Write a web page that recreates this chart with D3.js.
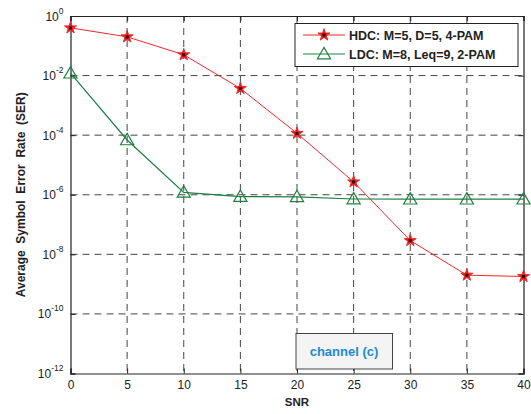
<!DOCTYPE html>
<html>
<head>
<meta charset="utf-8">
<script src="https://cdn.jsdelivr.net/npm/d3@7"></script>
<style>
  body { margin: 0; background: #fff; }
  svg { display: block; font-family: "Liberation Sans", Arial, sans-serif; }
</style>
</head>
<body>
<svg id="chart" width="531" height="414"></svg>
<script>
// SNR points (dB)
const snr = [0, 5, 10, 15, 20, 25, 30, 35, 40];
// Symbol error rate per scheme
const serHDC = [0.4, 0.2, 0.05, 0.0037, 1.15e-4, 2.7e-6, 2.9e-8, 2.0e-9, 1.8e-9];
const serLDC = [0.012, 6.9e-5, 1.2e-6, 8.7e-7, 8.5e-7, 7.2e-7, 7.1e-7, 7.1e-7, 7.1e-7];
const seriesNames = ["HDC: M=5, D=5, 4-PAM", "LDC: M=8, Leq=9, 2-PAM"];
const xTicks = [0, 5, 10, 15, 20, 25, 30, 35, 40];
const yExponents = [0, -2, -4, -6, -8, -10, -12];
const annotation = "channel (c)";

const svg = d3.select("#chart");
const m = { left: 70.5, right: 523.5, top: 16, bottom: 373.5 };

const x = d3.scaleLinear().domain([0, 40]).range([m.left, m.right]);
const y = d3.scaleLog().domain([1e-12, 1]).range([m.bottom, m.top]);

const redC = "#f02828", greenC = "#1e8040";

// dashed grid
const grid = svg.append("g").attr("stroke", "#444").attr("stroke-width", 1)
  .attr("stroke-dasharray", "7,5");
xTicks.slice(1, -1).forEach(t => {
  grid.append("line").attr("x1", x(t)).attr("x2", x(t))
    .attr("y1", m.top).attr("y2", m.bottom);
});
yExponents.slice(1, -1).forEach(e => {
  grid.append("line").attr("x1", m.left).attr("x2", m.right)
    .attr("y1", y(Math.pow(10, e))).attr("y2", y(Math.pow(10, e)));
});

// axes with inward ticks
const xAxis = svg.append("g").attr("transform", `translate(0,${m.bottom})`)
  .call(d3.axisBottom(x).tickValues(xTicks).tickSize(-5).tickPadding(7));
const xTop = svg.append("g").attr("transform", `translate(0,${m.top})`)
  .call(d3.axisTop(x).tickValues(xTicks).tickSize(-5).tickFormat(""));
const yVals = yExponents.map(e => Math.pow(10, e));
const yAxis = svg.append("g").attr("transform", `translate(${m.left},0)`)
  .call(d3.axisLeft(y).tickValues(yVals).tickSize(-5).tickFormat(""));
const yRight = svg.append("g").attr("transform", `translate(${m.right},0)`)
  .call(d3.axisRight(y).tickValues(yVals).tickSize(-5).tickFormat(""));
[xAxis, xTop, yAxis, yRight].forEach(g => {
  g.select(".domain").attr("stroke", "#222").attr("stroke-width", 1.2);
  g.selectAll(".tick line").attr("stroke", "#222");
});
xAxis.selectAll(".tick text").attr("font-size", 12).attr("fill", "#222")
  .attr("font-family", "Liberation Sans, Arial, sans-serif");

// y tick labels 10^e
yExponents.forEach(e => {
  const t = svg.append("text").attr("x", m.left - 7).attr("y", y(Math.pow(10, e)) + 4.5)
    .attr("text-anchor", "end").attr("font-size", 12).attr("fill", "#222");
  t.append("tspan").text("10");
  t.append("tspan").attr("font-size", 8.5).attr("dy", -7).text(String(e));
});

// axis titles
svg.append("text").attr("x", (m.left + m.right) / 2).attr("y", 406)
  .attr("text-anchor", "middle").attr("font-size", 11.5).attr("font-weight", "bold")
  .attr("fill", "#222").text("SNR");
svg.append("text").attr("transform", `translate(25,${(m.top + m.bottom) / 2}) rotate(-90)`)
  .attr("text-anchor", "middle").attr("font-size", 12).attr("font-weight", "bold")
  .attr("fill", "#222").attr("xml:space", "preserve")
  .text("Average  Symbol  Error  Rate  (SER)");

// series lines
const line = d3.line().x(d => x(d[0])).y(d => y(d[1]));
const hdc = snr.map((s, i) => [s, serHDC[i]]);
const ldc = snr.map((s, i) => [s, serLDC[i]]);
svg.append("path").datum(hdc).attr("d", line).attr("fill", "none")
  .attr("stroke", redC).attr("stroke-width", 1);
svg.append("path").datum(ldc).attr("d", line).attr("fill", "none")
  .attr("stroke", greenC).attr("stroke-width", 1.2);

const star = d3.symbol().type(d3.symbolStar).size(45);
const tri = d3.symbol().type(d3.symbolTriangle).size(75);
function drawStar(g, cx, cy) {
  g.append("path").attr("d", star()).attr("transform", `translate(${cx},${cy})`)
    .attr("fill", "#e02020").attr("stroke", redC).attr("stroke-width", 1);
  g.append("rect").attr("x", cx - 1.5).attr("y", cy - 1.5).attr("width", 3).attr("height", 3)
    .attr("fill", "#300");
}
function drawTri(g, cx, cy) {
  g.append("path").attr("d", tri()).attr("transform", `translate(${cx},${cy + 1})`)
    .attr("fill", "none").attr("stroke", greenC).attr("stroke-width", 1.2);
}
const mk = svg.append("g");
ldc.forEach(d => drawTri(mk, x(d[0]), y(d[1])));
hdc.forEach(d => drawStar(mk, x(d[0]), y(d[1])));

// legend
const lg = svg.append("g");
lg.append("rect").attr("x", 295).attr("y", 23.5).attr("width", 223).attr("height", 43)
  .attr("fill", "#fff").attr("stroke", "#222").attr("stroke-width", 1);
const rows = [35, 54];
lg.append("line").attr("x1", 303).attr("x2", 345).attr("y1", rows[0]).attr("y2", rows[0])
  .attr("stroke", redC);
drawStar(lg, 324, rows[0]);
lg.append("line").attr("x1", 303).attr("x2", 345).attr("y1", rows[1]).attr("y2", rows[1])
  .attr("stroke", greenC).attr("stroke-width", 1.2);
drawTri(lg, 324, rows[1]);
seriesNames.forEach((n, i) => {
  lg.append("text").attr("x", 349).attr("y", rows[i] + 4.5).attr("font-size", 12.5)
    .attr("font-weight", "bold").attr("fill", "#222").text(n);
});

// annotation box
const ann = svg.append("g");
ann.append("rect").attr("x", 296).attr("y", 333.5).attr("width", 96.5).attr("height", 35.5)
  .attr("fill", "#f4f4f4").attr("stroke", "#444").attr("stroke-width", 1);
ann.append("text").attr("x", 344).attr("y", 356).attr("text-anchor", "middle")
  .attr("font-size", 13).attr("font-weight", "bold").attr("fill", "#1e8ad2").text(annotation);
</script>
</body>
</html>
